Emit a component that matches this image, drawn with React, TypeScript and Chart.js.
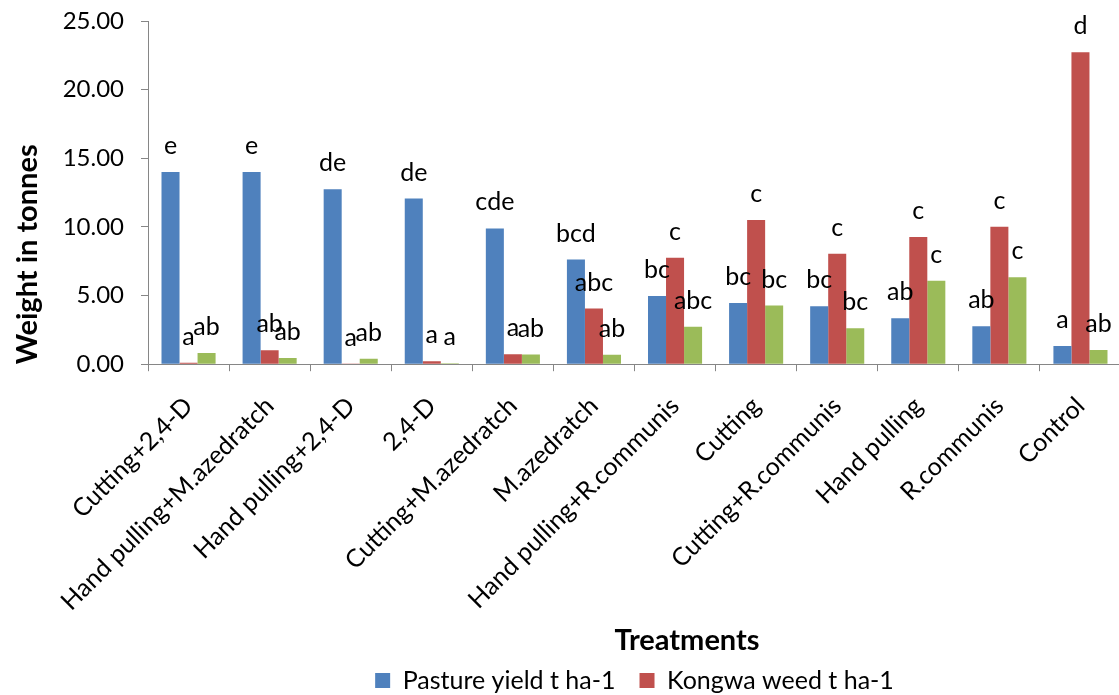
import React, { useEffect, useRef } from "react";
import { Chart, registerables } from "chart.js";

Chart.register(...registerables);

const categories = [
  "Cutting+2,4-D",
  "Hand pulling+M.azedratch",
  "Hand pulling+2,4-D",
  "2,4-D",
  "Cutting+M.azedratch",
  "M.azedratch",
  "Hand pulling+R.communis",
  "Cutting",
  "Cutting+R.communis",
  "Hand pulling",
  "R.communis",
  "Control",
];

const pastureYield = [14.0, 14.0, 12.75, 12.07, 9.89, 7.63, 4.96, 4.45, 4.23, 3.35, 2.77, 1.33];
const kongwaWeed = [0.1, 1.02, 0.02, 0.22, 0.73, 4.06, 7.75, 10.5, 8.04, 9.26, 10.01, 22.72];
const thirdSeries = [0.82, 0.46, 0.39, 0.07, 0.7, 0.68, 2.72, 4.28, 2.62, 6.07, 6.34, 1.04];

const pastureLetters = ["e", "e", "de", "de", "cde", "bcd", "bc", "bc", "bc", "ab", "ab", "a"];
const kongwaLetters = ["a", "ab", "a", "a", "a", "abc", "c", "c", "c", "c", "c", "d"];
const thirdLetters = ["ab", "ab", "ab", "a", "ab", "ab", "abc", "bc", "bc", "c", "c", "ab"];

const yTicks = [0, 5, 10, 15, 20, 25];

const seriesLabels = ["Pasture yield t ha-1", "Kongwa weed t ha-1", "Series 3"];
const seriesColors = ["#4F81BD", "#C0504D", "#9BBB59"];

const letterSets = [pastureLetters, kongwaLetters, thirdLetters];

const letterPlugin = {
  id: "significanceLetters",
  afterDatasetsDraw(chart: any) {
    const ctx = chart.ctx;
    ctx.save();
    ctx.font = "25px Lato";
    ctx.fillStyle = "#000000";
    ctx.textAlign = "center";
    ctx.textBaseline = "middle";
    chart.data.datasets.forEach((_ds: any, di: number) => {
      const meta = chart.getDatasetMeta(di);
      const letters = letterSets[di];
      meta.data.forEach((bar: any, i: number) => {
        ctx.fillText(letters[i], bar.x, bar.y - 26);
      });
    });
    ctx.restore();
  },
};

export default function App() {
  const ref = useRef<HTMLCanvasElement | null>(null);

  useEffect(() => {
    if (!ref.current) return;
    Chart.defaults.font.family = "Lato";
    const chart = new Chart(ref.current, {
      type: "bar",
      data: {
        labels: categories,
        datasets: [pastureYield, kongwaWeed, thirdSeries].map((d, i) => ({
          label: seriesLabels[i],
          data: d,
          backgroundColor: seriesColors[i],
          borderWidth: 0,
          categoryPercentage: 0.667,
          barPercentage: 1.0,
        })),
      },
      options: {
        responsive: false,
        animation: false,
        devicePixelRatio: 1,
        layout: { padding: { top: 21, left: 0, right: 0, bottom: 0 } },
        scales: {
          x: {
            type: "category",
            offset: true,
            grid: {
              display: true,
              offset: true,
              drawOnChartArea: false,
              drawTicks: true,
              tickLength: 7,
              color: "#868686",
            },
            border: { display: true, color: "#868686", width: 1 },
            ticks: {
              minRotation: 45,
              maxRotation: 45,
              autoSkip: false,
              padding: 20,
              color: "#000000",
              font: { family: "Lato", size: 25 },
            },
            afterFit: (s: any) => {
              s.height = 274;
            },
          },
          y: {
            type: "linear",
            position: "left",
            min: 0,
            max: 25,
            afterBuildTicks: (s: any) => {
              s.ticks = yTicks.map((v) => ({ value: v }));
            },
            ticks: {
              padding: 17,
              color: "#000000",
              font: { family: "Lato", size: 24 },
              callback: (v: any) => Number(v).toFixed(2),
            },
            grid: {
              display: true,
              drawOnChartArea: false,
              drawTicks: true,
              tickLength: 7,
              color: "#868686",
            },
            border: { display: true, color: "#868686", width: 1 },
            title: {
              display: true,
              text: "Weight in tonnes",
              align: "start",
              color: "#000000",
              font: { family: "Lato", size: 29, weight: "bold" },
              padding: { top: 10, bottom: 0 },
            },
            afterFit: (s: any) => {
              s.width = 148;
              s.paddingTop = 14;
              s.paddingBottom = 14;
            },
          },
          ySpace: {
            type: "linear",
            position: "right",
            display: true,
            grid: { display: false },
            border: { display: false },
            ticks: { display: false },
            afterFit: (s: any) => {
              s.width = 253;
            },
          },
        },
        plugins: {
          legend: {
            display: true,
            position: "bottom",
            fullSize: false,
            labels: {
              filter: (item: any) => item.datasetIndex < 2,
              boxWidth: 15,
              boxHeight: 15,
              padding: 24,
              color: "#000000",
              font: { family: "Lato", size: 25 },
            },
          },
          title: {
            display: true,
            text: "Treatments",
            position: "bottom",
            fullSize: true,
            weight: 500,
            color: "#000000",
            font: { family: "Lato", size: 29, weight: "bold", lineHeight: 0.2 },
            padding: 0,
          },
          tooltip: { enabled: false },
        },
      },
      plugins: [letterPlugin],
    } as any);
    return () => chart.destroy();
  }, []);

  return (
    <div
      style={{
        position: "fixed",
        left: 0,
        top: 0,
        width: 1119,
        height: 695,
        overflow: "hidden",
        background: "#ffffff",
      }}
    >
      <canvas
        ref={ref}
        width={1374}
        height={703}
        style={{ display: "block", width: 1374, height: 703 }}
      />
    </div>
  );
}
